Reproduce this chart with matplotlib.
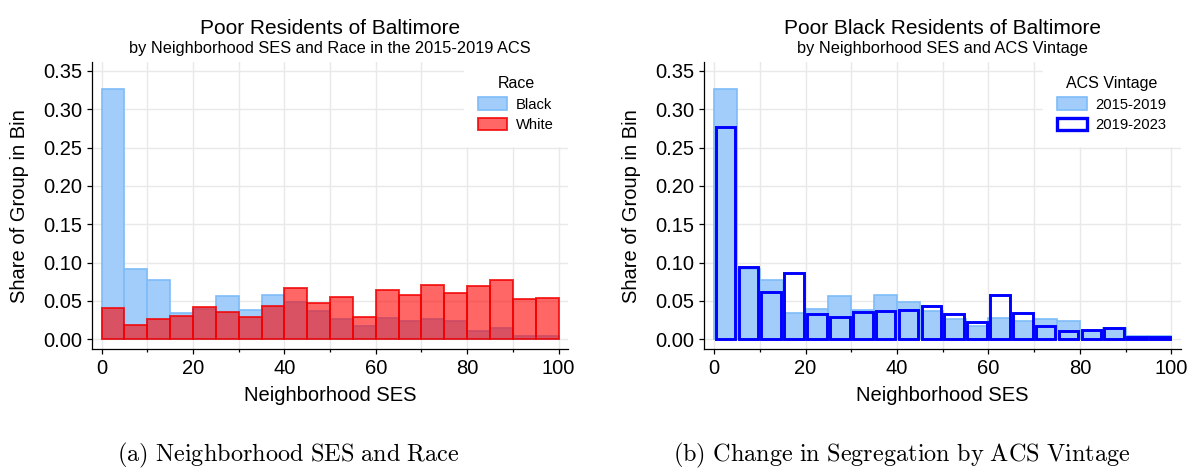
import numpy as np
import matplotlib
matplotlib.use("Agg")
import matplotlib.pyplot as plt
from matplotlib.patches import Patch

# Histogram bins of neighborhood SES (width 5, 0-100)
bin_edges = list(range(0, 101, 5))

# Share of poor residents in each SES bin, 2015-2019 ACS
black_1519 = [0.3265, 0.0922, 0.0770, 0.0339, 0.0395, 0.0561, 0.0378, 0.0574,
              0.0483, 0.0370, 0.0260, 0.0180, 0.0275, 0.0235, 0.0260, 0.0235,
              0.0115, 0.0145, 0.0037, 0.0047]
white_1519 = [0.0413, 0.0187, 0.0270, 0.0300, 0.0426, 0.0360, 0.0296, 0.0439,
              0.0674, 0.0478, 0.0557, 0.0296, 0.0639, 0.0583, 0.0713, 0.0609,
              0.0696, 0.0778, 0.0530, 0.0543]

# Poor Black residents, 2019-2023 ACS
black_1923 = [0.2770, 0.0948, 0.0613, 0.0860, 0.0330, 0.0296, 0.0360, 0.0374,
              0.0380, 0.0435, 0.0330, 0.0226, 0.0574, 0.0348, 0.0174, 0.0104,
              0.0120, 0.0152, 0.0035, 0.0035]

race_labels = ["Black", "White"]
vintage_labels = ["2015-2019", "2019-2023"]

plt.rcParams["font.family"] = ["Liberation Sans", "DejaVu Sans"]
plt.rcParams["mathtext.fontset"] = "cm"

W, H = 1189, 468
fig = plt.figure(figsize=(W / 100, H / 100), dpi=100)

blue_fc = "#a2cdfb"
blue_ec = "#7fbcf8"
red_fc = (1.0, 0.0, 0.0, 0.6)
red_ec = (0.95, 0.0, 0.0, 0.8)
navy = "#0000ff"

centers = [(a + b) / 2 for a, b in zip(bin_edges[:-1], bin_edges[1:])]
width = 5


def px_axes(x0, x1, y0, y1):
    return fig.add_axes([x0 / W, 1 - y1 / H, (x1 - x0) / W, (y1 - y0) / H])


def style(ax):
    ax.set_xlim(-2.15, 102.05)
    ax.set_ylim(-0.013, 0.3617)
    ax.set_xticks(range(0, 101, 20))
    ax.set_xticks(range(10, 100, 20), minor=True)
    yt = np.arange(0, 0.351, 0.05)
    ax.set_yticks(yt)
    ax.set_yticklabels([f"{v:.2f}" for v in yt])
    for x in range(0, 101, 10):
        ax.axvline(x, color="#e9e9e9", lw=1.0, zorder=0)
    for y in yt:
        ax.axhline(y, color="#e9e9e9", lw=1.0, zorder=0)
    ax.spines["top"].set_visible(False)
    ax.spines["right"].set_visible(False)
    for s in ("left", "bottom"):
        ax.spines[s].set_linewidth(0.9)
    ax.tick_params(axis="both", which="major", labelsize=14.5, length=3.4,
                   width=0.9, pad=3.5, colors="black")
    ax.tick_params(axis="x", which="minor", length=2.0, width=0.9)
    ax.set_xlabel("Neighborhood SES", fontsize=14.5)
    ax.set_ylabel("Share of Group in Bin", fontsize=14.5)
    ax.xaxis.set_label_coords(0.5, -0.128)
    ax.yaxis.set_label_coords(-0.132, 0.5)


def add_legend(ax, handles, labels, title):
    leg = ax.legend(handles, labels, title=title, loc="upper right",
                    bbox_to_anchor=(1.0, 1.0), fontsize=10.6,
                    title_fontsize=11.5, frameon=True, fancybox=False,
                    framealpha=1, edgecolor="white", borderaxespad=0.0,
                    handlelength=2.0, handleheight=0.95, handletextpad=0.6,
                    labelspacing=0.42, borderpad=0.95)
    leg.set_zorder(5)
    return leg


# (a) Poor residents by race
ax1 = px_axes(91.7, 568.0, 62.0, 349.3)
style(ax1)
ax1.bar(centers, black_1519, width=width, facecolor=blue_fc, edgecolor=blue_ec,
        linewidth=1.2, zorder=2)
ax1.bar(centers, white_1519, width=width, facecolor=red_fc, edgecolor=red_ec,
        linewidth=1.4, zorder=3)
add_legend(ax1,
           [Patch(facecolor=blue_fc, edgecolor=blue_ec, linewidth=1.2),
            Patch(facecolor=red_fc, edgecolor=red_ec, linewidth=1.4)],
           race_labels, "Race")

# (b) Poor Black residents by ACS vintage
ax2 = px_axes(704.3, 1180.7, 62.0, 349.3)
style(ax2)
ax2.bar(centers, black_1519, width=width, facecolor=blue_fc, edgecolor=blue_ec,
        linewidth=1.2, zorder=2)
ax2.bar(centers, black_1923, width=width - 0.72, facecolor="none", edgecolor=navy,
        linewidth=2.1, zorder=3)
add_legend(ax2,
           [Patch(facecolor=blue_fc, edgecolor=blue_ec, linewidth=1.2),
            Patch(facecolor="white", edgecolor=navy, linewidth=2.4)],
           vintage_labels, "ACS Vintage")

# Panel titles
for ax, title, sub in [
    (ax1, "Poor Residents of Baltimore",
     "by Neighborhood SES and Race in the 2015-2019 ACS"),
    (ax2, "Poor Black Residents of Baltimore",
     "by Neighborhood SES and ACS Vintage"),
]:
    pos = ax.get_position()
    cx = (pos.x0 + pos.x1) / 2
    fig.text(cx, 1 - 33.7 / H, title, ha="center", va="baseline", fontsize=15)
    fig.text(cx, 1 - 52.8 / H, sub, ha="center", va="baseline", fontsize=11.8)

# Subfigure captions
fig.text(288 / W, 1 - 455 / H, r"$\mathrm{(a)\ Neighborhood\ SES\ and\ Race}$",
         ha="center", va="center", fontsize=17.5)
fig.text(902 / W, 1 - 455 / H,
         r"$\mathrm{(b)\ Change\ in\ Segregation\ by\ ACS\ Vintage}$",
         ha="center", va="center", fontsize=17.5)

fig.savefig("out.png", dpi=100)
